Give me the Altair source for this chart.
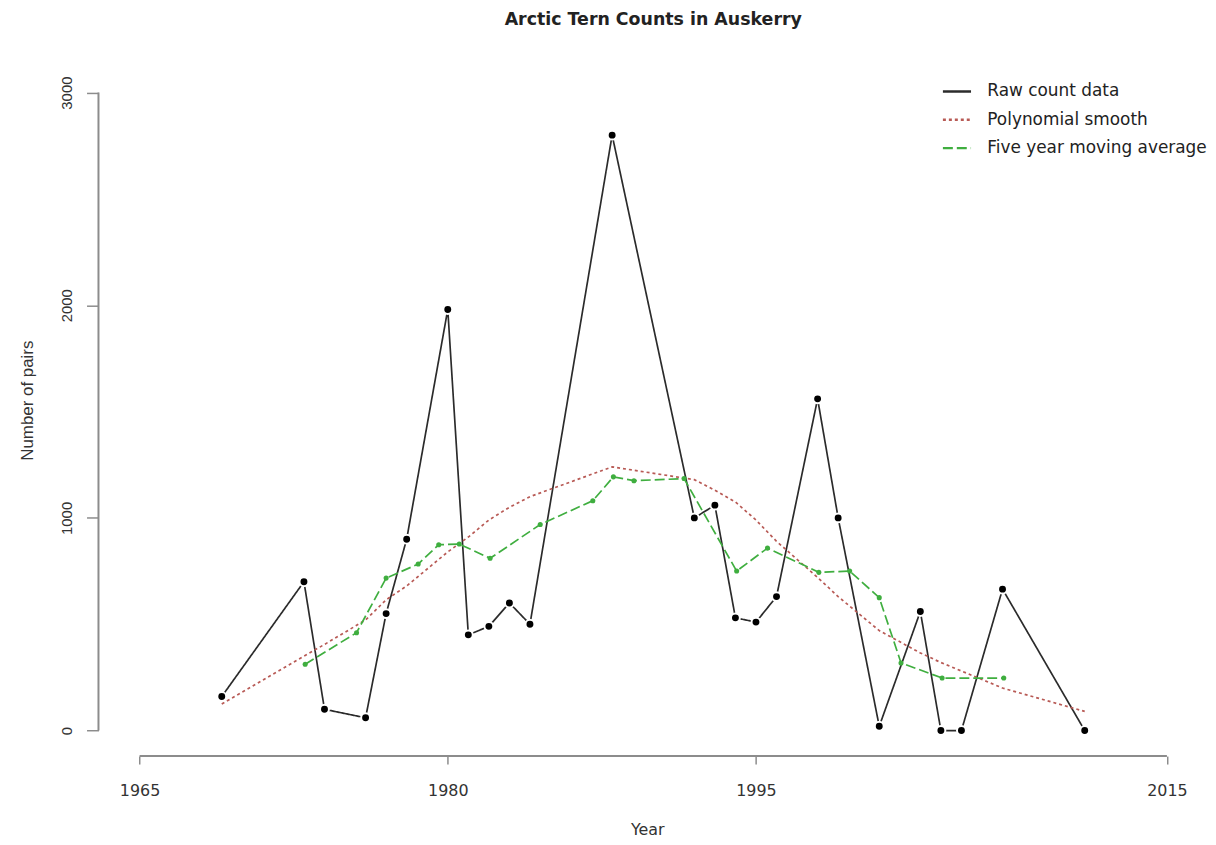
import altair as alt
import pandas as pd

# ---- data ----
raw_years = [1969, 1973, 1974, 1976, 1977, 1978, 1980, 1981, 1982, 1983, 1984, 1988,
             1992, 1993, 1994, 1995, 1996, 1998, 1999, 2001, 2003, 2004, 2005, 2007, 2011]
raw_counts = [160, 700, 100, 60, 550, 900, 1980, 450, 490, 600, 500, 2800,
              1000, 1060, 530, 510, 630, 1560, 1000, 20, 560, 0, 0, 665, 0]

poly_years = raw_years
poly_fit = [125, 350, 405, 520, 615, 680, 840, 910, 990, 1050, 1100, 1240,
            1180, 1130, 1075, 990, 890, 720, 630, 470, 365, 320, 280, 200, 90]

ma_years = [1973.06, 1975.56, 1977.0, 1978.56, 1979.56, 1980.56, 1982.06, 1984.5,
            1987.06, 1988.06, 1989.06, 1991.5, 1994.06, 1995.56, 1998.06, 1999.56,
            2001.0, 2002.06, 2004.06, 2007.06]
ma_values = [312, 460, 717, 783, 874, 877, 810, 969, 1081, 1193, 1175, 1185,
             750, 858, 744, 750, 625, 318, 247, 247]

x_ticks = [1965, 1980, 1995, 2015]
y_ticks = [0, 1000, 2000, 3000]
series_names = ["Raw count data", "Polynomial smooth", "Five year moving average"]
series_colors = ["#2b2b2b", "#b85a55", "#3fae3f"]
series_dash = [[1, 0], [3, 3], [10, 4]]

# ---- tables ----
rows = []
for yr, v in zip(raw_years, raw_counts):
    rows.append({"year": yr, "value": v, "series": series_names[0]})
for yr, v in zip(poly_years, poly_fit):
    rows.append({"year": yr, "value": v, "series": series_names[1]})
for yr, v in zip(ma_years, ma_values):
    rows.append({"year": yr, "value": v, "series": series_names[2]})
df = pd.DataFrame(rows)
raw_df = pd.DataFrame({"year": raw_years, "value": raw_counts})
ma_df = pd.DataFrame({"year": ma_years, "value": ma_values})
xaxis_df = pd.DataFrame({"year": [min(x_ticks)], "year2": [max(x_ticks)]})
yaxis_df = pd.DataFrame({"value": [min(y_ticks)], "value2": [max(y_ticks)]})

W, H = 1116, 693
x_scale = alt.Scale(domain=[1963, 2017], nice=False, zero=False)
y_scale = alt.Scale(domain=[-120, 3120], nice=False, zero=False)
AXIS_GREY = "#8c8c8c"

x_axis = alt.Axis(values=x_ticks, format="d", domain=False, grid=False,
                  tickSize=8, tickColor=AXIS_GREY, tickWidth=1.5,
                  labelFont="DejaVu Sans", labelFontSize=16, labelColor="#333333",
                  labelPadding=19, labelFlush=False,
                  title="Year", titleFont="DejaVu Sans", titleFontSize=16,
                  titleFontWeight="normal", titleColor="#333333",
                  titleX=552, titleY=74, titleBaseline="middle")
y_axis = alt.Axis(values=y_ticks, format="d", domain=False, grid=False,
                  tickSize=12, tickColor=AXIS_GREY, tickWidth=1.5,
                  labelFont="Liberation Sans", labelFontSize=15, labelColor="#333333",
                  labelAngle=270, labelAlign="center", labelBaseline="bottom",
                  labelPadding=12,
                  title="Number of pairs", titleFont="Liberation Sans", titleFontSize=17,
                  titleFontWeight="normal", titleColor="#333333",
                  titleAngle=270, titleX=-71, titleY=335, titleAlign="center",
                  titleBaseline="middle")

legend = alt.Legend(title=None, orient="none", legendX=848, legendY=9,
                    symbolType="stroke", symbolSize=800, symbolStrokeWidth=2.5,
                    labelFont="DejaVu Sans", labelFontSize=17, labelColor="#222222",
                    labelOffset=15, labelLimit=400, rowPadding=4.5, padding=0)

X = alt.X("year:Q", scale=x_scale, axis=x_axis)
Y = alt.Y("value:Q", scale=y_scale, axis=y_axis)

lines = alt.Chart(df).mark_line(strokeWidth=1.7).encode(
    x=X, y=Y,
    color=alt.Color("series:N", scale=alt.Scale(domain=series_names, range=series_colors),
                    legend=legend),
    strokeDash=alt.StrokeDash("series:N", scale=alt.Scale(domain=series_names, range=series_dash),
                              legend=legend),
)

raw_pts = alt.Chart(raw_df).mark_point(filled=True, shape="circle", size=80,
                                       fill="black", stroke="white", strokeWidth=2,
                                       opacity=1).encode(x=X, y=Y)
ma_pts = alt.Chart(ma_df).mark_circle(size=26, color="#3fae3f", opacity=1).encode(x=X, y=Y)

x_line = alt.Chart(xaxis_df).mark_rule(color=AXIS_GREY, strokeWidth=2).encode(
    x=X, x2="year2:Q", y=alt.value(H))
y_line = alt.Chart(yaxis_df).mark_rule(color=AXIS_GREY, strokeWidth=2).encode(
    y=Y, y2="value2:Q", x=alt.value(0))

chart = alt.layer(x_line, y_line, lines, raw_pts, ma_pts).properties(
    width=W, height=H,
    background="white",
    autosize=alt.AutoSizeParams(type="none"),
    padding={"left": 91, "top": 57, "right": 0, "bottom": 87},
    title=alt.TitleParams("Arctic Tern Counts in Auskerry", font="DejaVu Sans", fontSize=17.5,
                          fontWeight="bold", color="#222222", anchor="middle",
                          frame="group", offset=39),
).configure_view(stroke=None)

chart.save("out.html", embed_options={"renderer": "svg", "actions": False})
